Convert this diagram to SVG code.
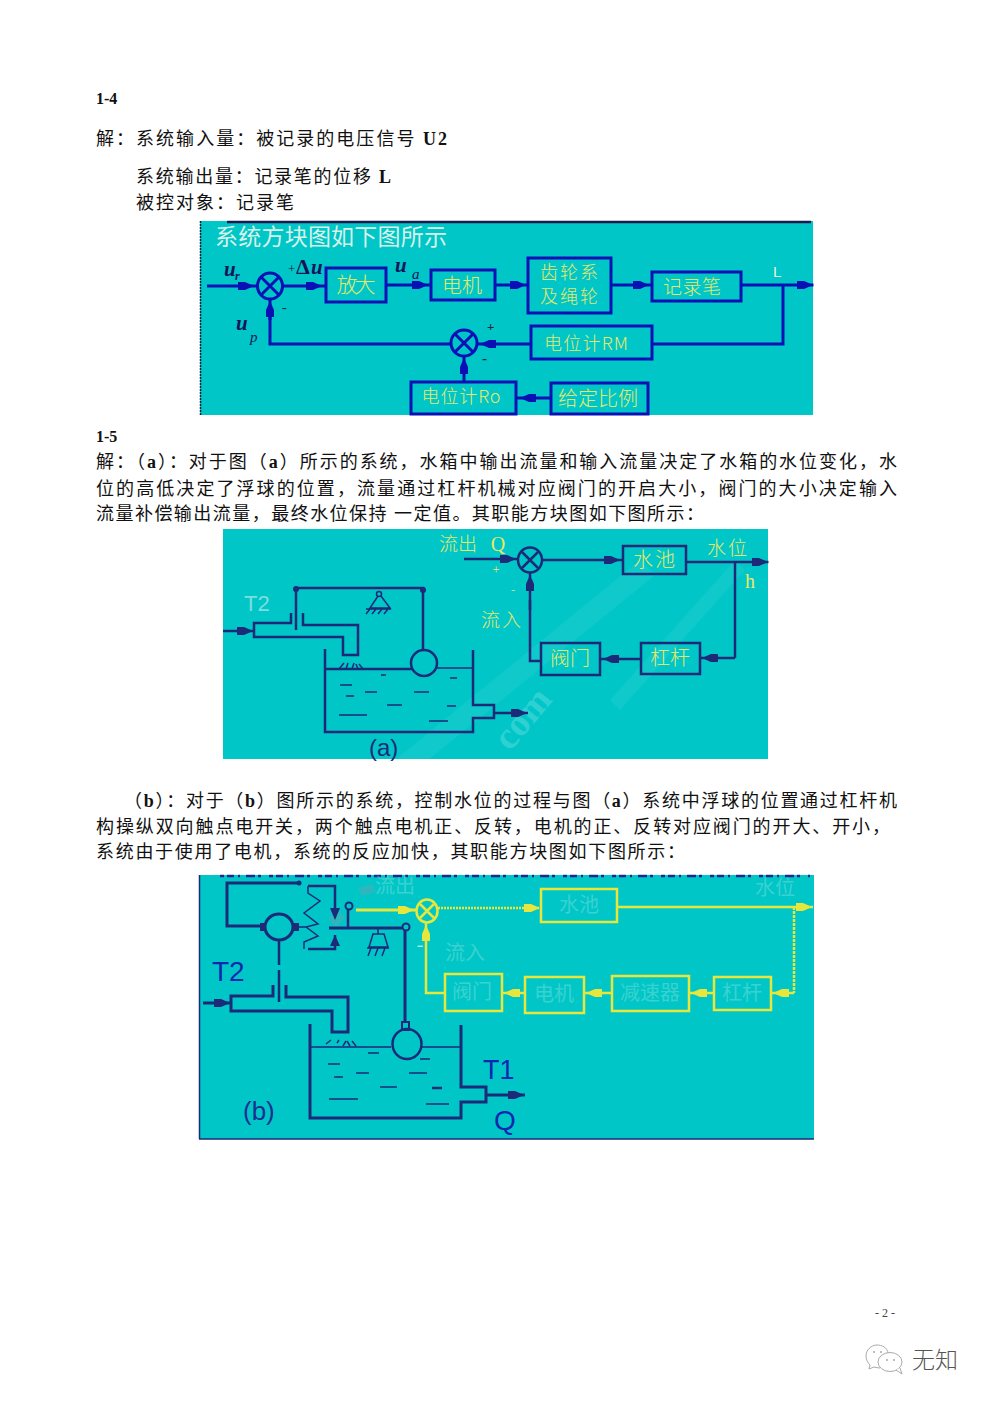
<svg xmlns="http://www.w3.org/2000/svg" width="992" height="1403" viewBox="0 0 992 1403">
<style>
text{font-family:"Liberation Serif","Noto Sans CJK SC",serif}
.p{font-size:18px;fill:#111}
.p tspan.b,.h{font-weight:bold}
.h{font-size:16px;fill:#111}
.bg{fill:#00c6c8}
.s1{fill:none;stroke:#0a10b4;stroke-width:3}
.c1{fill:none;stroke:#0a10b4;stroke-width:3;marker-mid:url(#a1)}
.s2{fill:none;stroke:#1c2a78;stroke-width:2.5}
.c2{fill:none;stroke:#1c2a78;stroke-width:2.5;marker-mid:url(#a2)}
.t2{fill:none;stroke:#1c2a78;stroke-width:1.5}
.s3{fill:none;stroke:#1c2a78;stroke-width:3}
.c3{fill:none;stroke:#1c2a78;stroke-width:3;marker-mid:url(#a2)}
.y{fill:none;stroke:#e6e63c;stroke-width:2.5}
.yc{fill:none;stroke:#e6e63c;stroke-width:2.5;marker-mid:url(#a3)}
.l{font-family:"Noto Sans CJK SC","Liberation Sans",sans-serif;fill:#e8e868;text-anchor:middle;font-weight:300}
.g{font-family:"Noto Sans CJK SC","Liberation Sans",sans-serif;fill:#bfeee0;text-anchor:middle;font-size:20px;opacity:.3}
.m{font-family:"Liberation Serif",serif;font-style:italic;font-weight:bold;fill:#14145a}
.d{font-family:"Liberation Sans",sans-serif;fill:#1028b0}
</style>
<defs>
<marker id="a1" markerUnits="userSpaceOnUse" markerWidth="16" markerHeight="11" viewBox="0 0 16 11" refX="16" refY="5.5" orient="auto"><path d="M0 1.5H7L16 5.500L7 9.500H0Z" fill="#0a10b4"/></marker>
<marker id="a2" markerUnits="userSpaceOnUse" markerWidth="16" markerHeight="11" viewBox="0 0 16 11" refX="16" refY="5.5" orient="auto"><path d="M0 1.5H7L16 5.500L7 9.500H0Z" fill="#1c2a78"/></marker>
<marker id="a3" markerUnits="userSpaceOnUse" markerWidth="16" markerHeight="11" viewBox="0 0 16 11" refX="16" refY="5.5" orient="auto"><path d="M0 1.5H7L16 5.500L7 9.500H0Z" fill="#e6e63c"/></marker>
<clipPath id="cp2"><rect x="223" y="529" width="545" height="230"/></clipPath>
</defs>
<rect width="992" height="1403" fill="#fff"/>

<g id="page-text">
<text class="h" x="96" y="104">1-4</text>
<text class="p" x="96" y="145" textLength="351" lengthAdjust="spacing">解：系统输入量：被记录的电压信号 <tspan class="b">U2</tspan></text>
<text class="p" x="136" y="183" textLength="255" lengthAdjust="spacing">系统输出量：记录笔的位移 <tspan class="b">L</tspan></text>
<text class="p" x="136" y="209" textLength="158" lengthAdjust="spacing">被控对象：记录笔</text>
<text class="h" x="96" y="442">1-5</text>
<text class="p" x="96" y="468" textLength="801" lengthAdjust="spacing">解：（<tspan class="b">a</tspan>）：对于图（<tspan class="b">a</tspan>）所示的系统，水箱中输出流量和输入流量决定了水箱的水位变化，水</text>
<text class="p" x="96" y="495" textLength="801" lengthAdjust="spacing">位的高低决定了浮球的位置，流量通过杠杆机械对应阀门的开启大小，阀门的大小决定输入</text>
<text class="p" x="96" y="520" textLength="608" lengthAdjust="spacing">流量补偿输出流量，最终水位保持 一定值。其职能方块图如下图所示：</text>
<text class="p" x="124" y="807" textLength="773" lengthAdjust="spacing">（<tspan class="b">b</tspan>）：对于（<tspan class="b">b</tspan>）图所示的系统，控制水位的过程与图（<tspan class="b">a</tspan>）系统中浮球的位置通过杠杆机</text>
<text class="p" x="96" y="833" textLength="794" lengthAdjust="spacing">构操纵双向触点电开关，两个触点电机正、反转，电机的正、反转对应阀门的开大、开小，</text>
<text class="p" x="96" y="858" textLength="589" lengthAdjust="spacing">系统由于使用了电机，系统的反应加快，其职能方块图如下图所示：</text>
</g>

<g id="panel-1">
<rect class="bg" x="200" y="221" width="613" height="194"/>
<path d="M227 222H811" stroke="#1a1a50" stroke-width="2.500"/>
<path d="M200.500 221V415" stroke="#123" stroke-width="1.500" stroke-dasharray="2 1"/>
<text x="215" y="245" font-size="23" fill="#d8f2e8" style="font-family:'Noto Sans CJK SC',sans-serif" textLength="232">系统方块图如下图所示</text>
<g id="p1-connectors">
<path class="c1" d="M207 286H254H258"/>
<path class="c1" d="M283 286H322H326"/>
<path class="c1" d="M385 285H428H431"/>
<path class="c1" d="M495 285H526H528"/>
<path class="c1" d="M611 285H649H652"/>
<path class="c1" d="M741 285H813H813.500"/>
<path class="s1" d="M783 285V344H652"/>
<path class="c1" d="M531 344H480H477"/>
<path class="s1" d="M451 344H270V310"/>
<path class="c1" d="M270 320V301V298"/>
<path class="c1" d="M464 382V358V356"/>
<path class="c1" d="M551 398H520H516"/>
</g>
<g id="sum-1"><ellipse class="s1" cx="270" cy="286" rx="12.500" ry="13"/><path class="s1" d="M261 277L279 295M279 277L261 295" stroke-width="2.500"/></g>
<g id="sum-2"><ellipse class="s1" cx="464" cy="343" rx="13" ry="13"/><path class="s1" d="M455 334L473 352M473 334L455 352" stroke-width="2.500"/></g>
<g id="box-amp"><rect class="s1" x="326" y="268" width="60" height="34"/><text class="l" x="356" y="292" font-size="21" textLength="39">放大</text></g>
<g id="box-motor"><rect class="s1" x="431" y="270" width="64" height="30"/><text class="l" x="462" y="293" font-size="20" textLength="40">电机</text></g>
<g id="box-gear"><rect class="s1" x="528" y="258" width="83" height="55"/><text class="l" x="569" y="279" font-size="18" textLength="58">齿轮系</text><text class="l" x="569" y="303" font-size="18" textLength="58">及绳轮</text></g>
<g id="box-pen"><rect class="s1" x="652" y="272" width="89" height="29"/><text class="l" x="692" y="294" font-size="19" textLength="58">记录笔</text></g>
<g id="box-rm"><rect class="s1" x="531" y="326" width="121" height="33"/><text class="l" x="586" y="350" font-size="18" textLength="84">电位计RM</text></g>
<g id="box-ro"><rect class="s1" x="411" y="382" width="105" height="32"/><text class="l" x="461" y="403" font-size="18" textLength="79">电位计Ro</text></g>
<g id="box-ratio"><rect class="s1" x="551" y="383" width="97" height="31"/><text class="l" x="598" y="406" font-size="20" textLength="80">给定比例</text></g>
<g id="p1-labels">
<text class="m" x="224" y="276" font-size="21">u</text><text class="m" x="235" y="280" font-size="12">r</text>
<text x="288" y="273" font-size="13" fill="#223">+</text>
<text class="m" x="296" y="274" font-size="22" style="font-style:normal">Δ</text><text class="m" x="311" y="274" font-size="21">u</text>
<text class="m" x="395" y="272" font-size="21">u</text><text class="m" x="412" y="279" font-size="15" style="font-weight:normal">a</text>
<text x="282" y="312" font-size="14" fill="#223">-</text>
<text class="m" x="236" y="330" font-size="21">u</text><text class="m" x="250" y="342" font-size="15" style="font-weight:normal">p</text>
<text x="487" y="331" font-size="13" fill="#223" font-weight="bold">+</text>
<text x="482" y="363" font-size="15" fill="#223" font-weight="bold">-</text>
<text x="773" y="277" font-size="15" fill="#e8f4d0" style="font-family:'Liberation Sans',sans-serif">L</text>
</g>
</g>

<g id="panel-2">
<rect class="bg" x="223" y="529" width="545" height="230"/>
<g clip-path="url(#cp2)" fill="#fff" style="font-family:'Liberation Sans',sans-serif" font-size="38" font-weight="bold">
<text transform="translate(510,752) rotate(-50)" opacity=".18">com</text>
<path d="M395 760L640 560L655 575L410 775ZM610 700L735 560L745 570L620 710Z" opacity=".06"/>
</g>
<g id="p2-connectors">
<path class="c2" d="M464 559H516H517"/>
<path class="c2" d="M543 560H620H623"/>
<path class="c2" d="M686 562H768H768.500"/>
<path class="s2" d="M735 562V658"/>
<path class="c2" d="M735 658H702H700"/>
<path class="c2" d="M641 659H603H600"/>
<path class="s2" d="M541 661H530V600"/>
<path class="c2" d="M530 610V575V573"/>
</g>
<g id="sum-a"><ellipse class="s2" cx="530" cy="560" rx="12" ry="12.500"/><path class="s2" d="M522 552L538 568M538 552L522 568"/></g>
<g id="box-pool"><rect class="s2" x="623" y="546" width="63" height="28"/><text class="l" x="654" y="567" font-size="20" textLength="42">水池</text></g>
<g id="box-lever"><rect class="s2" x="641" y="643" width="59" height="31"/><text class="l" x="670" y="665" font-size="20" textLength="40">杠杆</text></g>
<g id="box-valve"><rect class="s2" x="541" y="643" width="59" height="32"/><text class="l" x="570" y="666" font-size="20" textLength="40">阀门</text></g>
<g id="p2-labels">
<text class="l" x="458" y="551" font-size="19" textLength="38">流出</text>
<text class="l" x="498" y="551" font-size="20" style="font-family:'Liberation Serif',serif">Q</text>
<text class="l" x="496" y="574" font-size="13">+</text>
<text class="l" x="513" y="594" font-size="14">-</text>
<text class="l" x="501" y="627" font-size="19" textLength="40">流入</text>
<text class="l" x="727" y="555" font-size="19" textLength="40">水位</text>
<text class="l" x="750" y="588" font-size="20" style="font-family:'Liberation Serif',serif">h</text>
<text x="244" y="611" font-size="22" fill="#cdf0ea" opacity=".6" style="font-family:'Liberation Sans',sans-serif">T2</text>
</g>
<g id="tank-a">
<path class="s2" d="M296 588H423V650"/><circle cx="296" cy="589" r="3" fill="#1c2a78"/><circle cx="423" cy="590" r="3" fill="#1c2a78"/>
<path class="s2" d="M296 588V630"/>
<circle class="t2" cx="379" cy="594" r="2.500"/>
<path class="t2" d="M378 596L370 608H390L381 596M366 609H391M370 609L366 614M376 609L372 614M382 609L378 614M388 609L384 614"/>
<path class="c2" d="M223 631H253H254"/>
<path class="s2" d="M291 613V623H254V637H343V655H358V625H303V613"/>
<path class="s2" d="M325 649V732H473V718H494V705H473V650"/>
<path class="s2" d="M325 669H412"/><path class="t2" d="M437 668H473"/>
<circle class="s2" cx="424" cy="663" r="13"/>
<path class="c2" d="M494 713H527H528"/>
<path class="t2" d="M339 669L344 663M346 669L348 663M352 669L354 663M358 669L356 664M363 669L359 664"/>
<path class="t2" d="M381 675H386M340 685H352M365 692H377M346 696H354M414 692H429M450 678H457M387 705H402M447 706H456M339 715H367M429 721H448"/>
</g>
<text id="label-a" x="369" y="756" font-size="24" fill="#1c2a78" style="font-family:'Liberation Sans',sans-serif">(a)</text>
</g>

<g id="panel-3">
<rect class="bg" x="199" y="875" width="615" height="264"/>
<path d="M199.500 875V1139M199 1139H814" stroke="#1c2a78" stroke-width="1.500"/>
<path d="M220 876H810" stroke="#1c2a90" stroke-width="2.500" stroke-dasharray="4 3 7 4 2 6 9 3 3 8"/>
<g id="p3-connectors">
<path class="yc" style="stroke-width:3" d="M356 910H414H416"/>
<path class="yc" stroke-dasharray="2 1" d="M438 908H540H541"/>
<path class="yc" d="M617 907H812H813"/>
<path class="y" stroke-dasharray="3 1" d="M794 907V993"/>
<path class="yc" d="M794 993H773H771"/>
<path class="yc" d="M714 993H691H689"/>
<path class="yc" d="M612 993H586H584"/>
<path class="yc" d="M525 993H504H502"/>
<path class="y" d="M445 993H426V950"/>
<path class="yc" d="M426 950V925V923"/>
</g>
<g id="sum-b"><ellipse class="y" cx="427" cy="911" rx="10.500" ry="11.500"/><path class="y" d="M420 904L434 918M434 904L420 918"/></g>
<g id="box-b1"><rect class="y" x="541" y="889" width="76" height="33"/><text class="g" x="579" y="912" font-size="18">水池</text></g>
<g id="box-b2"><rect class="y" x="445" y="974" width="57" height="37"/><text class="g" x="472" y="999">阀门</text></g>
<g id="box-b3"><rect class="y" x="525" y="977" width="59" height="36"/><text class="g" x="554" y="1001">电机</text></g>
<g id="box-b4"><rect class="y" x="612" y="976" width="77" height="35"/><text class="g" x="650" y="1000">减速器</text></g>
<g id="box-b5"><rect class="y" x="714" y="977" width="57" height="33"/><text class="g" x="742" y="1000">杠杆</text></g>
<text id="label-in" class="g" x="465" y="960">流入</text>
<text id="label-out" class="g" x="395" y="893">流出</text>
<text id="label-level" class="g" x="775" y="895">水位</text>
<text id="label-minus" class="g" x="420" y="952" style="opacity:1" font-size="14">-</text>
<g id="servo">
<path d="M358 888L372 884L376 892L362 896ZM328 918L338 910L345 918L335 928Z" fill="#6f9fb0" opacity=".4"/>
<path class="s3" d="M299 883H227V926H261"/><circle cx="299" cy="883" r="2.500" fill="#1c2a78"/>
<ellipse class="s3" cx="279" cy="927" rx="14" ry="13"/>
<path d="M260 923h6v8h-6zM293 923h6v8h-6z" fill="#1c2a78"/>
<path class="t2" stroke-width="2" d="M299 927H306L318 936L304 942V949M308 886V893L320 901L304 913L318 924L306 927"/>
<path class="s2" d="M308 886H335V908M308 949H335V935"/>
<path d="M330 908H340L335 920ZM335 935L330 946H340Z" fill="#1c2a78"/>
<path class="s3" d="M329 928H402"/>
<path class="s2" d="M348 910V928"/><circle cx="349" cy="906" r="3.500" fill="none" stroke="#1c2a78" stroke-width="2"/>
<circle cx="406" cy="927" r="3.500" fill="none" stroke="#1c2a78" stroke-width="2"/>
<path class="t2" stroke-width="2" d="M378 929V934M373 934H384L388 947H369ZM367 948H389M371 948L368 956M378 948L375 956M385 948L382 956"/>
<path class="s3" d="M405 931V1023"/>
<path d="M402 1022h7v8h-7z" fill="none" stroke="#1c2a78" stroke-width="2"/>
<ellipse class="s2" cx="407" cy="1044" rx="14.500" ry="15"/>
<path class="s2" d="M279 940V965M279 970V1002"/>
</g>
<g id="tank-b">
<path class="c3" d="M203 1003H230H231"/>
<path class="s3" d="M273 985V996H231V1011H332V1032H348V997H286V985"/>
<path class="s3" d="M310 1024V1118H461V1102H486V1087H461V1025"/>
<path class="t2" d="M310 1047H391M421 1047H461"/>
<path class="c3" d="M487 1095H524H525"/>
<path class="t2" d="M326 1044L331 1040M337 1043L339 1040M343 1046L346 1041M350 1046L347 1041M356 1046L352 1041"/>
<path class="t2" d="M368 1053H379M328 1064H340M356 1073H369M334 1077H343M409 1073H427M420 1059H430M380 1087H397M329 1099H358M426 1104H449"/>
<path d="M432 1088H442" stroke="#1c2a78" stroke-width="2.500"/>
</g>
<g id="p3-labels">
<text class="d" x="212" y="981" font-size="28">T2</text>
<text class="d" x="483" y="1079" font-size="27">T1</text>
<text class="d" x="494" y="1130" font-size="28">Q</text>
<text x="243" y="1120" font-size="26" fill="#1a3090" style="font-family:'Liberation Sans',sans-serif">(b)</text>
</g>
</g>

<g id="footer">
<text x="885" y="1317" font-size="12" fill="#444" text-anchor="middle">- 2 -</text>
<g fill="#fff" stroke="#aaa" stroke-width="1">
<path d="M888 1354C888 1347 881 1345 877 1345C871 1345 866 1350 866 1356C866 1360 868 1363 870 1365L869 1369L874 1367C876 1367.500 878 1368 880 1368"/>
<ellipse cx="890" cy="1362" rx="12" ry="9.500"/>
<path d="M896 1370L902 1374L900 1368"/>
</g>
<path d="M886 1360h2M893 1360h2M873 1352h2M880 1352h2" stroke="#aaa" stroke-width="1.500"/>
<text x="912" y="1368" font-size="23" fill="#555" font-weight="300" style="font-family:'Noto Sans CJK SC',sans-serif" textLength="46">无知</text>
</g>
</svg>
